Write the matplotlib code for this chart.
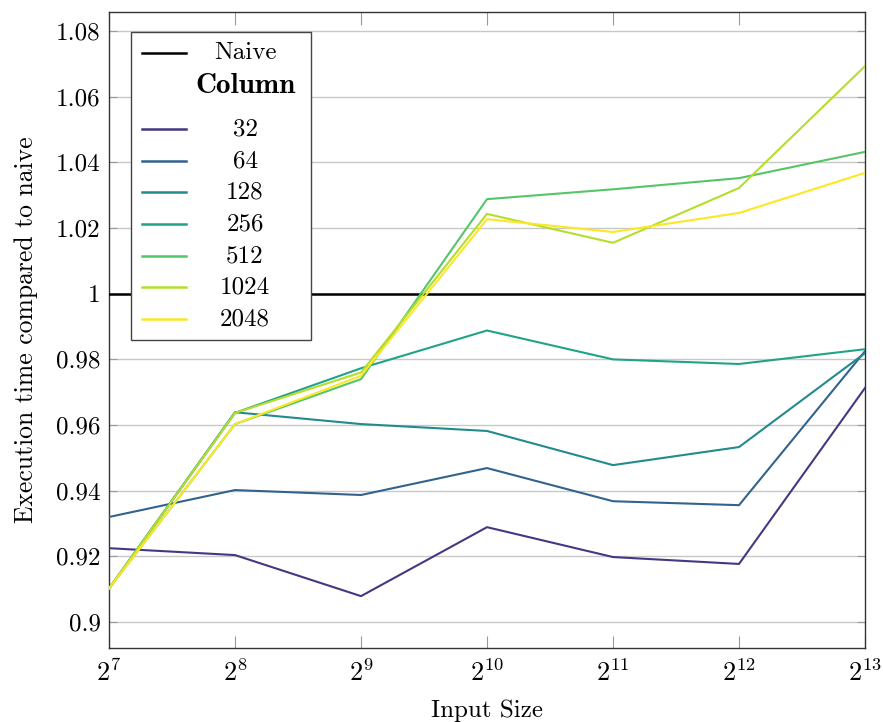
import numpy as np
import matplotlib.pyplot as plt
from matplotlib.lines import Line2D
from matplotlib.patches import Rectangle
from matplotlib.ticker import FixedLocator, FuncFormatter, NullLocator

plt.rcParams['font.family'] = 'cmr10'
plt.rcParams['mathtext.fontset'] = 'cm'
plt.rcParams['axes.unicode_minus'] = False
plt.rcParams['font.size'] = 18

# Input sizes (powers of two)
exponents = [7, 8, 9, 10, 11, 12, 13]
sizes = [2 ** e for e in exponents]

naive = [1.0, 1.0, 1.0, 1.0, 1.0, 1.0, 1.0]

# Column variants: execution time relative to naive
col_labels = ['32', '64', '128', '256', '512', '1024', '2048']
col_32 = [0.9225, 0.9204, 0.9079, 0.9289, 0.9198, 0.9177, 0.9713]
col_64 = [0.9320, 0.9402, 0.9387, 0.9469, 0.9368, 0.9356, 0.9825]
col_128 = [0.9102, 0.9639, 0.9603, 0.9582, 0.9478, 0.9533, 0.9819]
col_256 = [0.9102, 0.9637, 0.9773, 0.9888, 0.9800, 0.9786, 0.9831]
col_512 = [0.9102, 0.9603, 0.9740, 1.0288, 1.0318, 1.0352, 1.0432]
col_1024 = [0.9102, 0.9637, 0.9760, 1.0243, 1.0155, 1.0322, 1.0693]
col_2048 = [0.9102, 0.9603, 0.9750, 1.0227, 1.0188, 1.0246, 1.0368]
col_series = [col_32, col_64, col_128, col_256, col_512, col_1024, col_2048]

colors = ['#453781', '#33638d', '#238a8d', '#20a386', '#55c667', '#b5de2b', '#fde725']

yticks = [0.9, 0.92, 0.94, 0.96, 0.98, 1.0, 1.02, 1.04, 1.06, 1.08]

W, H = 883, 722
fig = plt.figure(figsize=(W / 100, H / 100), dpi=100)
ax = fig.add_axes([109 / W, 1 - 648 / H, 756 / W, 636 / H])

ax.plot(sizes, naive, color='black', lw=1.8, zorder=3)
for vals, c in zip(col_series, colors):
    ax.plot(sizes, vals, color=c, lw=1.5, zorder=4)

ax.set_xscale('log', base=2)
ax.set_xlim(sizes[0], sizes[-1])
ax.set_ylim(0.8921, 1.0858)

ax.xaxis.set_major_locator(FixedLocator(sizes))
ax.xaxis.set_minor_locator(NullLocator())
ax.xaxis.set_major_formatter(FuncFormatter(lambda v, p: r'$2^{%d}$' % round(np.log2(v))))
ax.yaxis.set_major_locator(FixedLocator(yticks))
ax.yaxis.set_major_formatter(FuncFormatter(lambda v, p: '%g' % round(v, 2)))

ax.grid(axis='y', color='#c8c8c8', lw=1.0, zorder=0)
ax.set_axisbelow(True)
ax.tick_params(axis='x', direction='in', length=9, width=0.8, color='#999999',
               top=True, bottom=True, pad=8, labelsize=19)
ax.tick_params(axis='y', direction='in', length=6, width=0.8, color='#999999',
               left=True, right=True, pad=6, labelsize=18)
for sp in ax.spines.values():
    sp.set_color('#333333')
    sp.set_linewidth(1.0)

ax.set_xlabel('Input Size', fontsize=18, labelpad=10)
ax.set_ylabel('Execution time compared to naive', fontsize=18.5, labelpad=13)

# legend box, drawn in figure pixels
def fx(px):
    return px / W

def fy(py):
    return 1 - py / H

tf = fig.transFigure
fig.add_artist(Rectangle((fx(131), fy(340)), fx(311) - fx(131), fy(32) - fy(340),
                         transform=tf, facecolor='white', edgecolor='#444444', lw=1.0, zorder=5))

line_x = [fx(142), fx(186)]
text_x = fx(245)
fig.add_artist(Line2D(line_x, [fy(53), fy(53)], transform=tf, color='black', lw=1.8, zorder=6))
fig.text(text_x, fy(53), 'Naive', ha='center', va='center', fontsize=18, zorder=6)
fig.text(text_x, fy(86), 'Column', ha='center', va='center', fontsize=21,
         family='cmb10', zorder=6)

row_y = [129, 161, 192, 224, 256, 287, 319]
for lab, c, ry in zip(col_labels, colors, row_y):
    fig.add_artist(Line2D(line_x, [fy(ry), fy(ry)], transform=tf, color=c, lw=1.8, zorder=6))
    fig.text(text_x, fy(ry), lab, ha='center', va='center', fontsize=18, zorder=6)

fig.savefig('out.png', dpi=100)
